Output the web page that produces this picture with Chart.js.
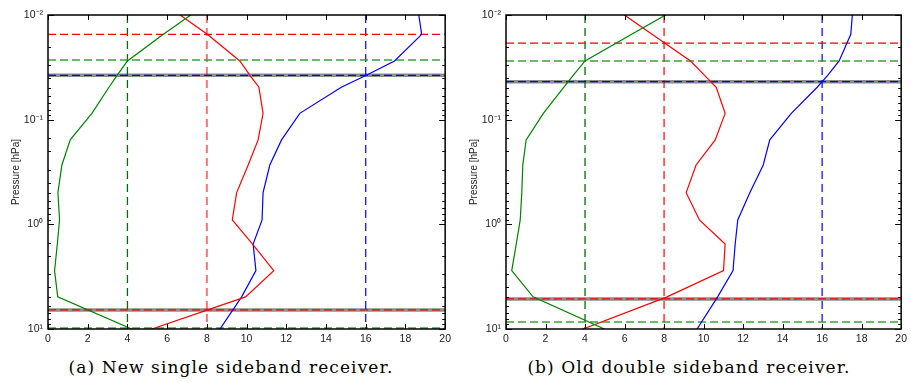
<!DOCTYPE html>
<html>
<head>
<meta charset="utf-8">
<script src="https://cdn.jsdelivr.net/npm/chart.js@4.4.1/dist/chart.umd.min.js"></script>
<style>
  body { margin: 0; background: #fff; width: 911px; height: 383px; position: relative; overflow: hidden; }
  canvas { position: absolute; top: 0; }
  .caption { position: absolute; top: 358px; line-height: 19px; font-family: 'DejaVu Serif', serif; font-size: 17px;
             letter-spacing: 1.1px; color: #000; white-space: nowrap; transform: translateX(-50%); }
</style>
</head>
<body>
<canvas id="ssbChart" width="455" height="346" style="left:0"></canvas>
<canvas id="dsbChart" width="453" height="346" style="left:458px"></canvas>
<div class="caption" style="left:231px">(a) New single sideband receiver.</div>
<div class="caption" style="left:689px">(b) Old double sideband receiver.</div>
<script>
// pressure levels [hPa] shared by all profiles
const pressureLevels = [0.01, 0.0153, 0.0275, 0.0377, 0.049, 0.087, 0.156, 0.271, 0.498, 0.908, 1.54, 2.77, 4.93, 10];

// (a) new single sideband receiver
const ssbGreen = [7.19, 5.81, 4.0, 3.48, 3.07, 2.21, 1.12, 0.70, 0.50, 0.58, 0.47, 0.33, 0.49, 4.22];
const ssbRed   = [6.65, 8.02, 9.66, 10.17, 10.62, 10.83, 10.58, 10.08, 9.50, 9.28, 10.29, 11.37, 9.95, 5.23];
const ssbBlue  = [18.67, 18.82, 17.45, 16.03, 14.77, 12.68, 11.76, 11.17, 10.83, 10.78, 10.33, 10.47, 9.75, 8.66];

// (b) old double sideband receiver
const dsbGreen = [8.08, 6.36, 4.0, 3.40, 2.93, 1.89, 1.02, 0.85, 0.80, 0.72, 0.52, 0.29, 1.37, 4.98];
const dsbRed   = [5.99, 7.39, 9.34, 10.05, 10.64, 11.09, 10.59, 9.62, 9.12, 9.79, 11.09, 11.01, 8.15, 3.90];
const dsbBlue  = [17.53, 17.45, 16.86, 16.28, 15.75, 14.44, 13.35, 13.02, 12.34, 11.73, 11.6, 11.49, 10.71, 9.67];

// thresholds for green, red, blue and the pressures where each profile crosses them
const thresholds = [4, 8, 16];
const ssbTopLimits = [0.0269, 0.0153, 0.0377];
const ssbBottomLimits = [9.77, 6.57, null];
const dsbTopLimits = [0.0275, 0.0186, 0.0434];
const dsbBottomLimits = [8.55, 5.16, null];

const xTicks = [0, 20, 2]; // min, max, step
const yRange = [0.01, 10];

const sup = { '-': '\u207B', '0': '\u2070', '1': '\u00B9', '2': '\u00B2', '3': '\u00B3' };

// inward tick marks on all four sides + the black frame
const innerTicks = {
  id: 'innerTicks',
  afterDatasetsDraw(chart) {
    const { ctx, chartArea: a, scales: { x, y } } = chart;
    ctx.save();
    ctx.strokeStyle = '#000';
    ctx.lineWidth = 1;
    ctx.beginPath();
    x.ticks.forEach(t => {
      const px = Math.round(x.getPixelForValue(t.value)) + 0.5;
      ctx.moveTo(px, a.bottom); ctx.lineTo(px, a.bottom - 5);
      ctx.moveTo(px, a.top); ctx.lineTo(px, a.top + 5);
    });
    y.ticks.forEach(t => {
      const py = Math.round(y.getPixelForValue(t.value)) + 0.5;
      const len = t.label ? 6 : 3;
      ctx.moveTo(a.left, py); ctx.lineTo(a.left + len, py);
      ctx.moveTo(a.right, py); ctx.lineTo(a.right - len, py);
    });
    ctx.stroke();
    ctx.lineWidth = 1.5;
    ctx.strokeRect(a.left, a.top, a.width, a.height);
    ctx.restore();
  }
};

function curve(vals, color) {
  return {
    data: pressureLevels.map((p, i) => ({ x: vals[i], y: p })),
    borderColor: color, borderWidth: 1.2, pointRadius: 0, tension: 0, order: 1
  };
}

function hLine(p, color, width, dash, order) {
  return {
    data: [{ x: xTicks[0], y: p }, { x: xTicks[1], y: p }],
    borderColor: color, borderWidth: width, borderDash: dash, pointRadius: 0, order: order
  };
}

function vLine(v, color, width) {
  return {
    data: [{ x: v, y: yRange[0] }, { x: v, y: yRange[1] }],
    borderColor: color, borderWidth: width, borderDash: [8, 5], pointRadius: 0, order: 3
  };
}

function buildChart(id, green, red, blue, top, bottom, redVertical, padRight) {
  const lower = bottom.filter(v => v !== null);
  const datasets = [
    hLine(Math.max(...top), '#8c8c8c', 3.5, [], 5),
    hLine(Math.min(...lower), '#8c8c8c', 3.5, [], 5),
    vLine(thresholds[0], '#006e00', 1.3),
    vLine(thresholds[1], redVertical.color, redVertical.width),
    vLine(thresholds[2], '#0000ff', 1.2),
    hLine(top[0], 'rgba(40,160,40,0.7)', 2, [8, 4], 2),
    hLine(top[1], '#ff0000', 1.2, [8, 4], 2),
    hLine(top[2], '#0000ff', 1.2, [8, 4], 2),
    hLine(bottom[0], 'rgba(40,160,40,0.7)', 2, [8, 4], 2),
    hLine(bottom[1], '#ff0000', 1.2, [8, 4], 2),
    curve(green, '#008000'),
    curve(red, '#ff0000'),
    curve(blue, '#0000ff')
  ];
  const tickFont = { family: "'Liberation Sans', Arial, sans-serif", size: 10.5 };
  new Chart(document.getElementById(id), {
    type: 'line',
    data: { datasets: datasets },
    options: {
      responsive: false,
      animation: false,
      layout: { padding: { top: 15, right: padRight, left: 0, bottom: 0 } },
      plugins: { legend: { display: false }, tooltip: { enabled: false } },
      scales: {
        x: {
          type: 'linear', min: xTicks[0], max: xTicks[1],
          grid: { display: false, drawTicks: false }, border: { display: false },
          ticks: { stepSize: xTicks[2], padding: 4, color: '#222', font: tickFont, maxRotation: 0 },
          afterFit: s => { s.height = 17; }
        },
        y: {
          type: 'logarithmic', reverse: true, min: yRange[0], max: yRange[1],
          grid: { display: false, drawTicks: false }, border: { display: false },
          ticks: {
            autoSkip: false, padding: 5, color: '#222', font: tickFont,
            callback: v => {
              const e = Math.round(Math.log10(v));
              if (Math.abs(Math.log10(v) - e) > 1e-6) return '';
              return '10' + String(e).split('').map(c => sup[c]).join('');
            }
          },
          title: {
            display: true, text: 'Pressure [hPa]', color: '#222',
            font: { family: "'Liberation Sans', Arial, sans-serif", size: 10 },
            padding: { top: 10, bottom: 0 }
          },
          afterFit: s => { s.width = 48; }
        }
      }
    },
    plugins: [innerTicks]
  });
}

buildChart('ssbChart', ssbGreen, ssbRed, ssbBlue, ssbTopLimits, ssbBottomLimits,
  { color: 'rgba(255,0,0,0.55)', width: 2 }, 9);
buildChart('dsbChart', dsbGreen, dsbRed, dsbBlue, dsbTopLimits, dsbBottomLimits,
  { color: '#ff0000', width: 1.2 }, 7);
</script>
</body>
</html>
